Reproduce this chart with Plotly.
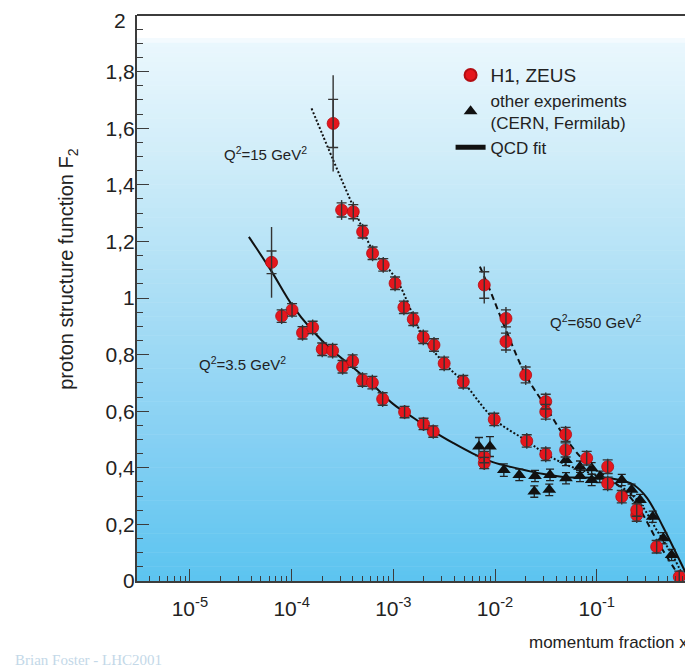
import plotly.graph_objects as go

# ---------------- data ----------------
# H1 / ZEUS, Q^2 = 3.5 GeV^2
x_q35 = [6.35e-5, 7.98e-5, 1.01e-4, 1.28e-4, 1.61e-4, 2.0e-4, 2.53e-4, 3.17e-4, 3.98e-4,
         4.97e-4, 6.22e-4, 7.85e-4, 1.29e-3, 1.98e-3, 2.47e-3, 7.83e-3, 7.83e-3]
f2_q35 = [1.126, 0.936, 0.958, 0.877, 0.896, 0.819, 0.814, 0.757, 0.777,
          0.710, 0.701, 0.643, 0.597, 0.555, 0.528, 0.438, 0.417]
stat_q35 = [0.040, 0.022, 0.022, 0.022, 0.022, 0.022, 0.022, 0.022, 0.022,
            0.022, 0.022, 0.022, 0.020, 0.020, 0.020, 0.020, 0.020]
tot_q35 = [0.125, 0.028, 0.028, 0.028, 0.028, 0.028, 0.028, 0.028, 0.028,
           0.028, 0.028, 0.028, 0.025, 0.025, 0.025, 0.025, 0.025]

# H1 / ZEUS, Q^2 = 15 GeV^2
x_q15 = [2.56e-4, 3.10e-4, 4.04e-4, 4.99e-4, 6.25e-4, 7.96e-4, 1.04e-3, 1.27e-3, 1.57e-3,
         1.97e-3, 2.51e-3, 3.16e-3, 4.87e-3, 9.82e-3, 2.05e-2, 3.15e-2, 0.128, 0.176, 0.247]
f2_q15 = [1.617, 1.311, 1.305, 1.234, 1.158, 1.117, 1.052, 0.967, 0.925,
          0.861, 0.834, 0.769, 0.704, 0.571, 0.495, 0.448, 0.345, 0.298, 0.233]
stat_q15 = [0.085, 0.025, 0.025, 0.022, 0.022, 0.022, 0.022, 0.022, 0.022,
            0.022, 0.022, 0.022, 0.022, 0.022, 0.022, 0.022, 0.022, 0.022, 0.022]
tot_q15 = [0.170, 0.035, 0.035, 0.028, 0.028, 0.028, 0.028, 0.028, 0.028,
           0.028, 0.028, 0.028, 0.028, 0.028, 0.028, 0.028, 0.028, 0.028, 0.028]

# H1 / ZEUS, Q^2 = 650 GeV^2
x_q650 = [7.83e-3, 1.28e-2, 1.28e-2, 2.0e-2, 3.15e-2, 3.15e-2, 4.94e-2, 4.94e-2,
          7.96e-2, 0.128, 0.247, 0.388, 0.647]
f2_q650 = [1.046, 0.928, 0.846, 0.728, 0.634, 0.598, 0.518, 0.463,
           0.434, 0.404, 0.251, 0.121, 0.015]
stat_q650 = [0.047, 0.030, 0.030, 0.028, 0.026, 0.026, 0.025, 0.025,
             0.024, 0.024, 0.022, 0.022, 0.020]
tot_q650 = [0.065, 0.040, 0.040, 0.035, 0.032, 0.032, 0.030, 0.030,
            0.028, 0.028, 0.026, 0.026, 0.024]

# other experiments (CERN, Fermilab)
x_fixed = [6.95e-3, 8.91e-3, 1.22e-2, 1.73e-2, 2.47e-2, 2.43e-2, 3.47e-2, 3.41e-2,
           4.98e-2, 4.98e-2, 6.84e-2, 6.84e-2, 8.91e-2, 8.91e-2, 0.107, 0.176,
           0.220, 0.266, 0.355, 0.451, 0.544]
f2_fixed = [0.475, 0.475, 0.392, 0.375, 0.371, 0.316, 0.375, 0.322,
            0.363, 0.428, 0.371, 0.404, 0.357, 0.398, 0.368, 0.357,
            0.322, 0.286, 0.227, 0.151, 0.092]
err_fixed = [0.032, 0.035, 0.022, 0.020, 0.020, 0.020, 0.020, 0.020,
             0.020, 0.020, 0.020, 0.020, 0.020, 0.020, 0.020, 0.020,
             0.020, 0.020, 0.020, 0.020, 0.020]

# QCD fit curves
fit_x_q35 = [3.8e-5, 6.35e-5, 1.01e-4, 1.6e-4, 2.5e-4, 4.0e-4, 6.2e-4, 1.0e-3, 1.6e-3,
             2.5e-3, 3.9e-3, 6.0e-3, 9.5e-3, 1.65e-2, 3.0e-2, 5.0e-2, 9.0e-2, 0.14,
             0.19, 0.23, 0.31, 0.45, 0.65, 0.82]
fit_f2_q35 = [1.216, 1.094, 0.975, 0.885, 0.815, 0.755, 0.695, 0.625, 0.575,
              0.528, 0.487, 0.451, 0.420, 0.398, 0.378, 0.367, 0.365, 0.362,
              0.352, 0.340, 0.295, 0.190, 0.074, 0.0]
fit_x_q15 = [1.57e-4, 2.56e-4, 4.04e-4, 6.25e-4, 1.08e-3, 1.97e-3, 3.16e-3, 4.87e-3,
             9.8e-3, 2.05e-2, 3.15e-2, 5.06e-2, 7.96e-2, 0.125, 0.182, 0.266, 0.388,
             0.565, 0.71]
fit_f2_q15 = [1.67, 1.488, 1.323, 1.17, 1.064, 0.862, 0.77, 0.703,
              0.572, 0.495, 0.449, 0.41, 0.386, 0.357, 0.328, 0.275, 0.18,
              0.086, 0.015]
fit_x_q650 = [7.1e-3, 8.91e-3, 1.28e-2, 2.0e-2, 3.15e-2, 4.94e-2, 7.96e-2, 0.125,
              0.182, 0.266, 0.388, 0.565, 0.684]
fit_f2_q650 = [1.111, 1.028, 0.887, 0.728, 0.616, 0.505, 0.416, 0.369,
               0.322, 0.251, 0.145, 0.05, 0.004]

y_tick_vals = [0, 0.2, 0.4, 0.6, 0.8, 1.0, 1.2, 1.4, 1.6, 1.8, 2.0]
y_tick_text = ["0", "0,2", "0,4", "0,6", "0,8", "1", "1,2", "1,4", "1,6", "1,8", "2"]
x_tick_vals = [1e-5, 1e-4, 1e-3, 1e-2, 1e-1]
x_tick_text = ["10<sup>-5</sup>", "10<sup>-4</sup>", "10<sup>-3</sup>",
               "10<sup>-2</sup>", "10<sup>-1</sup>"]

# ---------------- styling ----------------
FONT = "Liberation Sans, Arial, Helvetica, sans-serif"
RED = "#e5161d"
RED_EDGE = "#b30d12"
AX = "#3c3c3c"
# the page body has an 8px margin: size the figure so it fits the 693x669 window
W, H = 685, 661
ML, MR, MT, MB = 129, 0, 7, 88

fig = go.Figure()

# fit curves
fig.add_trace(go.Scatter(x=fit_x_q35, y=fit_f2_q35, mode="lines", line_shape="spline",
                         line=dict(color="#111111", width=2), name="QCD fit",
                         legendrank=3, showlegend=True))
fig.add_trace(go.Scatter(x=fit_x_q15, y=fit_f2_q15, mode="lines", line_shape="spline",
                         line=dict(color="#111111", width=2, dash="2px,2px"),
                         showlegend=False))
fig.add_trace(go.Scatter(x=fit_x_q650, y=fit_f2_q650, mode="lines", line_shape="spline",
                         line=dict(color="#111111", width=2, dash="6px,4px"),
                         showlegend=False))

# triangles
fig.add_trace(go.Scatter(x=x_fixed, y=f2_fixed, mode="markers",
                         marker=dict(symbol="triangle-up", size=12, color="#111111"),
                         error_y=dict(type="data", array=err_fixed, width=4,
                                      thickness=1.3, color="#222222"),
                         name="other experiments<br>(CERN, Fermilab)",
                         legendrank=2, showlegend=True))

# H1 / ZEUS points: total errors (no caps) and stat errors (caps)
first = True
for xs, ys, st, tt in [(x_q35, f2_q35, stat_q35, tot_q35),
                       (x_q15, f2_q15, stat_q15, tot_q15),
                       (x_q650, f2_q650, stat_q650, tot_q650)]:
    fig.add_trace(go.Scatter(x=xs, y=ys, mode="markers",
                             marker=dict(size=12, color=RED,
                                         line=dict(color=RED_EDGE, width=0.8)),
                             error_y=dict(type="data", array=tt, width=0,
                                          thickness=1.4, color="#333333"),
                             name="<span style='font-size:19px'>H1, ZEUS</span>",
                             legendrank=1, showlegend=first))
    fig.add_trace(go.Scatter(x=xs, y=ys, mode="markers",
                             marker=dict(size=12, color="rgba(0,0,0,0)"),
                             error_y=dict(type="data", array=st, width=5,
                                          thickness=1.4, color="#333333"),
                             hoverinfo="skip", showlegend=False))
    first = False

# ---------------- background gradient (style only) ----------------
stops = [(0.0, (255, 255, 255)), (0.04, (255, 255, 255)), (0.05, (234, 247, 253)),
         (0.25, (208, 237, 249)), (0.5, (170, 222, 245)), (0.75, (134, 208, 243)),
         (1.0, (92, 196, 240))]
shapes = []
N = 120
for i in range(N):
    t = (i + 0.5) / N  # fraction from top
    for k in range(len(stops) - 1):
        if stops[k][0] <= t <= stops[k + 1][0]:
            a, ca = stops[k]
            b, cb = stops[k + 1]
            u = (t - a) / (b - a)
            c = tuple(int(round(ca[j] + (cb[j] - ca[j]) * u)) for j in range(3))
            break
    shapes.append(dict(type="rect", xref="x domain", yref="y domain",
                       x0=0, x1=1, y0=1 - (i + 1) / N, y1=1 - i / N + 0.001,
                       fillcolor="rgb(%d,%d,%d)" % c, line=dict(width=0),
                       layer="below"))
# top frame line
shapes.append(dict(type="line", xref="x domain", yref="y domain", x0=0, x1=1,
                   y0=1, y1=1, line=dict(color=AX, width=2), layer="above"))

minor_x = [m * 10.0 ** e for e in range(-6, 0) for m in range(2, 10)]

# the top tick label sits a little below its tick (as in the original) so it is
# drawn as an annotation; the axis shows the others
axis_tick_text = y_tick_text[:-1] + [""]

fig.update_layout(
    width=W, height=H,
    margin=dict(l=ML, r=MR, t=MT, b=MB, autoexpand=False),
    paper_bgcolor="white", plot_bgcolor="white",
    font=dict(family=FONT, color="#222222"),
    shapes=shapes,
    showlegend=True,
    legend=dict(x=0.564, y=0.925, xanchor="left", yanchor="top",
                bgcolor="rgba(0,0,0,0)", borderwidth=0,
                font=dict(family=FONT, size=17, color="#222222"),
                itemsizing="constant", tracegroupgap=0),
    xaxis=dict(type="log", range=[-5.52, -0.054], automargin=False,
               tickvals=x_tick_vals, ticktext=x_tick_text,
               tickfont=dict(family=FONT, size=21, color="#222222"),
               ticks="inside", ticklen=12, tickwidth=1.3, tickcolor=AX,
               minor=dict(tickvals=minor_x, ticks="inside", ticklen=5,
                          tickwidth=1, tickcolor=AX, showgrid=False),
               showline=True, linecolor=AX, linewidth=2,
               showgrid=False, zeroline=False, ticklabelstandoff=8,
               ticklabeloverflow="allow"),
    yaxis=dict(range=[0, 2], tickvals=y_tick_vals, ticktext=axis_tick_text,
               automargin=False,
               tickfont=dict(family=FONT, size=21, color="#222222"),
               ticks="inside", ticklen=12, tickwidth=1.3, tickcolor=AX,
               minor=dict(dtick=0.05, ticks="inside", ticklen=6, tickwidth=1,
                          tickcolor=AX, showgrid=False),
               showline=True, linecolor=AX, linewidth=2,
               showgrid=False, zeroline=False, ticklabelstandoff=-4,
               ticklabeloverflow="allow"),
    annotations=[
        dict(text=y_tick_text[-1], xref="paper", yref="paper",
             x=-0.0162, y=1.0, xanchor="right", yanchor="top", yshift=8,
             showarrow=False, font=dict(family=FONT, size=21, color="#222222")),
        dict(text="proton structure function F<sub>2</sub>", xref="paper", yref="paper",
             x=-0.124, y=0.55, xanchor="center", yanchor="middle", textangle=-90,
             showarrow=False, font=dict(family=FONT, size=20, color="#222222")),
        dict(text="Q<sup>2</sup>=15 GeV<sup>2</sup>", xref="paper", yref="paper",
             x=0.153, y=0.756, xanchor="left", yanchor="middle", showarrow=False,
             font=dict(family=FONT, size=15, color="#222222")),
        dict(text="Q<sup>2</sup>=3.5 GeV<sup>2</sup>", xref="paper", yref="paper",
             x=0.108, y=0.385, xanchor="left", yanchor="middle", showarrow=False,
             font=dict(family=FONT, size=15, color="#222222")),
        dict(text="Q<sup>2</sup>=650 GeV<sup>2</sup>", xref="paper", yref="paper",
             x=0.739, y=0.458, xanchor="left", yanchor="middle", showarrow=False,
             font=dict(family=FONT, size=15, color="#222222")),
        dict(text="momentum fraction x", xref="paper", yref="paper",
             x=0.9946, y=-0.1095, xanchor="right", yanchor="middle", showarrow=False,
             font=dict(family=FONT, size=17, color="#222222")),
        dict(text="Brian Foster - LHC2001", xref="paper", yref="paper",
             x=-0.223, y=-0.1396, xanchor="left", yanchor="middle", showarrow=False,
             font=dict(family="Liberation Serif, DejaVu Serif, serif", size=15,
                       color="#c3d8e8")),
    ],
)

fig.write_html("out.html")
